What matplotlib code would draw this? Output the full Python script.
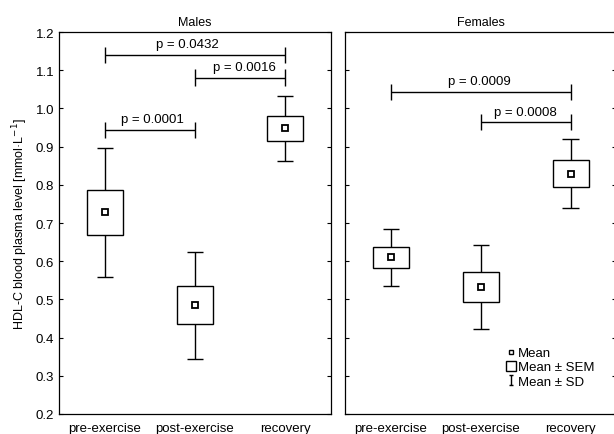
import matplotlib
matplotlib.use("Agg")
import matplotlib.pyplot as plt
from matplotlib.patches import Rectangle
from matplotlib.lines import Line2D
from matplotlib.path import Path

plt.rcParams.update({
    'font.family': ['Liberation Sans', 'DejaVu Sans'],
    'font.size': 9,
})

CATEGORIES = ['pre-exercise', 'post-exercise', 'recovery']
PANELS = ['Males', 'Females']

# mean, SEM and SD per panel
MEANS = {'Males': [0.728, 0.485, 0.948], 'Females': [0.610, 0.533, 0.829]}
SEM = {'Males': [0.059, 0.049, 0.032], 'Females': [0.027, 0.040, 0.035]}
SD = {'Males': [0.169, 0.140, 0.085], 'Females': [0.075, 0.110, 0.090]}

# significance brackets: (from, to, y, text x, label)
BRACKETS = {
    'Males': [(0, 2, 1.140, 0.92, 'p = 0.0432'),
              (1, 2, 1.081, 1.55, 'p = 0.0016'),
              (0, 1, 0.944, 0.53, 'p = 0.0001')],
    'Females': [(0, 2, 1.044, 0.99, 'p = 0.0009'),
                (1, 2, 0.964, 1.50, 'p = 0.0008')],
}

YTICKS = [0.2, 0.3, 0.4, 0.5, 0.6, 0.7, 0.8, 0.9, 1.0, 1.1, 1.2]

fig = plt.figure(figsize=(6.14, 4.35), dpi=100)
ax_m = fig.add_axes([0.0961, 0.046, 0.443, 0.878])
ax_f = fig.add_axes([0.5619, 0.046, 0.442, 0.878])

LW = 1.0
BOX_W = 0.40
CAP_W = 0.18

for ax, panel in zip([ax_m, ax_f], PANELS):
    for i, (m, se, sd) in enumerate(zip(MEANS[panel], SEM[panel], SD[panel])):
        ax.vlines(i, m - sd, m + sd, color='black', lw=LW, zorder=1)
        ax.hlines([m - sd, m + sd], i - CAP_W / 2, i + CAP_W / 2, color='black', lw=LW, zorder=1)
        ax.add_patch(Rectangle((i - BOX_W / 2, m - se), BOX_W, 2 * se,
                               facecolor='white', edgecolor='black', lw=LW, zorder=2))
        ax.plot(i, m, 's', ms=5, mfc='white', mec='black', mew=1.3, zorder=3)

    for a, b, y, tx, lab in BRACKETS[panel]:
        ax.hlines(y, a, b, color='black', lw=LW)
        ax.vlines([a, b], y - 0.021, y + 0.021, color='black', lw=LW)
        ax.text(tx, y + 0.028, lab, ha='center', va='center', fontsize=9.5)

    ax.set_xlim(-0.51, 2.51)
    ax.set_ylim(0.2, 1.2)
    ax.set_xticks(range(len(CATEGORIES)))
    ax.set_xticklabels(CATEGORIES, fontsize=9.5)
    ax.set_yticks(YTICKS)
    ax.tick_params(axis='x', length=0, pad=6)
    ax.tick_params(axis='y', direction='in', length=3, left=True, right=True, width=0.8,
                   labelsize=9.5)
    ax.set_title(panel, fontsize=9, pad=5)
    for s in ax.spines.values():
        s.set_linewidth(0.9)

ax_m.set_yticklabels([f'{v:.1f}' for v in YTICKS])
ax_f.set_yticklabels([])
ax_m.set_ylabel('HDL-C blood plasma level [mmol·L$^{-1}$]', fontsize=9, labelpad=4)

ibeam = Path([(-0.5, 1), (0.5, 1), (0, 1), (0, -1), (-0.5, -1), (0.5, -1)],
             [Path.MOVETO, Path.LINETO, Path.MOVETO, Path.LINETO, Path.MOVETO, Path.LINETO])
handles = [
    Line2D([], [], ls='none', marker='s', ms=3.5, mfc='white', mec='black', mew=1.0),
    Line2D([], [], ls='none', marker='s', ms=7, mfc='white', mec='black', mew=1.0),
    Line2D([], [], ls='none', marker=ibeam, ms=7, mec='black', mew=1.0),
]
ax_f.legend(handles, ['Mean', 'Mean ± SEM', 'Mean ± SD'], loc='lower left',
            bbox_to_anchor=(0.56, 0.045), frameon=False, handlelength=0.7,
            handletextpad=0.2, labelspacing=0.15, borderpad=0.2, fontsize=9.5)

fig.savefig('out.png', dpi=100)
